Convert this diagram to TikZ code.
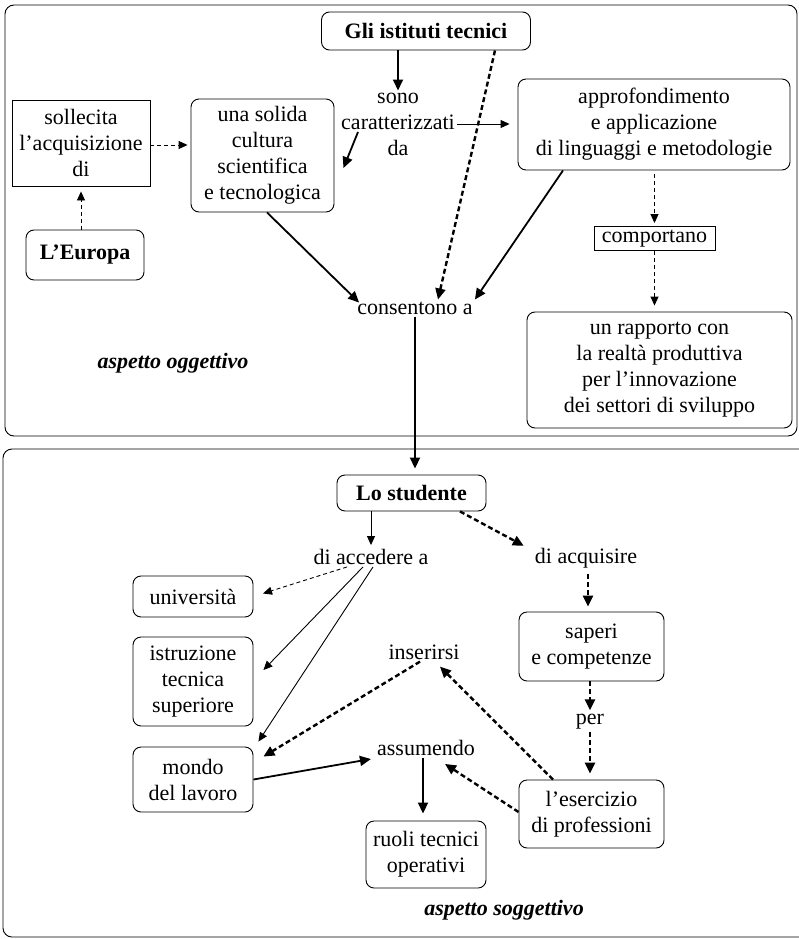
\documentclass[tikz,border=0pt]{standalone}
\usepackage{fontspec}
\setmainfont{Liberation Serif}
\usetikzlibrary{arrows.meta}

\tikzset{
  base/.style={font=\fontsize{22}{26}\selectfont, align=center, text=black},
  rbox/.style={base, draw, line width=0.9pt, rounded corners=8pt, inner sep=0pt},
  sbox/.style={base, draw, line width=0.9pt, inner sep=0pt},
  word/.style={base, inner sep=2pt},
  thin/.style={line width=0.9pt, -{Triangle[length=9pt,width=8pt]}},
  thick/.style={line width=1.8pt, -{Triangle[length=11pt,width=10pt]}},
  thindash/.style={thin, dash pattern=on 4pt off 3pt},
  thickdash/.style={line width=2.4pt, dash pattern=on 5pt off 3pt, -{Triangle[length=11pt,width=10pt]}},
  frame/.style={draw, line width=0.9pt, rounded corners=9pt},
  aspect/.style={base, font=\fontsize{22}{26}\selectfont\bfseries\itshape}
}

\begin{document}
\begin{tikzpicture}[x=1pt, y=-1pt]
  \useasboundingbox (0,0) rectangle (799,939);

  % the two panels; the lower one runs past the right edge
  \draw[frame] (5,5) rectangle (797,436);
  \draw[frame] (799,449) -- (3,449) -- (3,937) -- (799,937);

  % upper panel
  \node[rbox, font=\fontsize{22}{26}\selectfont\bfseries, minimum width=209pt, minimum height=38pt] (gli) at (426,31) {Gli istituti tecnici};
  \node[word] (sono) at (398,124) {sono\\caratterizzati\\da};
  \node[sbox, minimum width=138pt, minimum height=86pt] (soll) at (81,143) {sollecita\\l’acquisizione\\di};
  \node[rbox, font=\fontsize{22}{26}\selectfont\bfseries, minimum width=118pt, minimum height=50pt] (eur) at (85,255) {L’Europa};
  \node[rbox, minimum width=143pt, minimum height=113pt] (uns) at (262.5,155.5) {una solida\\cultura\\scientifica\\e tecnologica};
  \node[rbox, minimum width=272pt, minimum height=91pt] (appro) at (654,124.5) {approfondimento\\e applicazione\\di linguaggi e metodologie};
  \node[sbox, minimum width=121pt, minimum height=24pt] (comp) at (654.5,238.5) {comportano};
  \node[rbox, minimum width=265pt, minimum height=116pt] (rapp) at (659.5,370) {un rapporto con\\la realtà produttiva\\per l’innovazione\\dei settori di sviluppo};
  \node[word] (cons) at (415,308) {consentono a};
  \node[aspect] (ogg) at (173,363) {aspetto oggettivo};

  % lower panel
  \node[rbox, font=\fontsize{22}{26}\selectfont\bfseries, minimum width=149pt, minimum height=36pt] (stud) at (411.5,493) {Lo studente};
  \node[word] (acc) at (371,557) {di accedere a};
  \node[word] (acq) at (586,558) {di acquisire};
  \node[rbox, minimum width=120pt, minimum height=41pt] (univ) at (193,596.5) {università};
  \node[rbox, minimum width=120pt, minimum height=89pt] (istr) at (193,681.5) {istruzione\\tecnica\\superiore};
  \node[rbox, minimum width=120pt, minimum height=65pt] (mondo) at (193,779.5) {mondo\\del lavoro};
  \node[word] (ins) at (424,652) {inserirsi};
  \node[word] (ass) at (426,748) {assumendo};
  \node[rbox, minimum width=120pt, minimum height=67pt] (ruoli) at (426,854.5) {ruoli tecnici\\operativi};
  \node[rbox, minimum width=145pt, minimum height=69pt] (sap) at (591.5,646.5) {saperi\\e competenze};
  \node[word] (per) at (590,722) {per};
  \node[rbox, minimum width=145pt, minimum height=68pt] (eser) at (591.5,814) {l’esercizio\\di professioni};
  \node[aspect] (sog) at (504,910) {aspetto soggettivo};

  % connectors, upper panel
  \draw[thick] (gli.south -| sono.north) -- (sono.north);
  \draw[thick] ([shift={(-40pt,-8pt)}]sono.center) -- ([shift={(9pt,-12.5pt)}]uns.east);
  \draw[thin, shorten >=8pt] (sono.east) -- (appro.west |- sono.east);
  \draw[thindash, shorten >=5pt] (eur.north -| soll.south) -- (soll.south);
  \draw[thindash, shorten >=3pt] ([yshift=-2pt]soll.east) -- ([yshift=-2pt]uns.west |- soll.east);
  \draw[thickdash] ([xshift=69pt]gli.south) -- ([xshift=23pt]cons.north);
  \draw[thick] ([xshift=4.5pt]uns.south) -- ([shift={(4pt,-3pt)}]cons.north west);
  \draw[thick] ([xshift=-91pt]appro.south) -- (cons.north east);
  \draw[thindash, shorten <=4pt, shorten >=3pt] (appro.south -| comp.north) -- (comp.north);
  \draw[thindash, shorten >=6pt] (comp.south) -- (comp.south |- rapp.north);
  \draw[thick, shorten >=6pt] (cons.south) -- (cons.south |- stud.north);

  % connectors, lower panel
  \draw[thin, shorten >=2pt] (stud.south -| acc.north) -- (acc.north);
  \draw[thickdash] ([xshift=48.5pt]stud.south) -- ([xshift=-9pt]acq.north west);
  \draw[thindash, shorten >=10pt] ([xshift=-24pt]acc.south) -- (univ.east);
  \draw[thin] ([xshift=-8pt]acc.south) -- ([shift={(10pt,11.5pt)}]istr.east);
  \draw[thin] ([xshift=2pt]acc.south) -- ([shift={(5pt,5pt)}]mondo.north east);
  \draw[thickdash] ([xshift=-4pt]ins.south) -- ([shift={(10pt,-10pt)}]mondo.north east);
  \draw[thick] (mondo.east) -- ([shift={(-4pt,-11pt)}]ass.west);
  \draw[thick, shorten >=7pt] ([xshift=-3pt]ass.south) -- ([xshift=-3pt]ruoli.north);
  \draw[thickdash, shorten <=4pt, shorten >=5pt] ([xshift=2pt]acq.south) -- ([xshift=2pt]acq.south |- sap.north);
  \draw[thickdash, shorten >=2pt] (sap.south -| per.north) -- (per.north);
  \draw[thickdash, shorten >=6pt] (per.south) -- (per.south |- eser.north);
  \draw[thickdash] ([xshift=-38.5pt]eser.north) -- ([shift={(16pt,-5pt)}]ins.south);
  \draw[thickdash] ([yshift=2pt]eser.west) -- ([shift={(19pt,-6pt)}]ass.south);
\end{tikzpicture}
\end{document}
